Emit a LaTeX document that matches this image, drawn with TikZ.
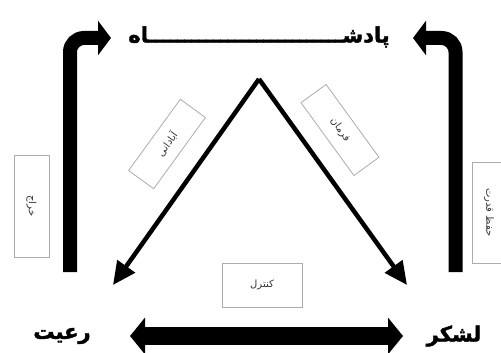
\documentclass[tikz,border=0pt]{standalone}
\usepackage{fontspec}
\usetikzlibrary{arrows.meta}
\newfontfamily\fa[Script=Arabic]{DejaVu Sans}
\newfontfamily\fab[Script=Arabic,FakeBold=2]{DejaVu Sans Bold}
\TeXXeTstate=1
\begin{document}
\begin{tikzpicture}[x=1pt,y=-1pt,
  lbl/.style={font=\fab\fontsize{21}{25}\selectfont, inner sep=0pt},
  tag/.style={draw=gray!65, line width=0.8pt, fill=white, inner sep=0pt,
    font=\fa\fontsize{10}{12}\selectfont, text=black!80},
  bent/.style={line width=14pt, -{Triangle[width=34pt,length=13pt]}, rounded corners=14pt},
  diag/.style={line width=4.5pt, -{Triangle[width=21pt,length=23pt]}},
  dbl/.style={line width=18pt, {Triangle[width=36pt,length=15pt]}-{Triangle[width=36pt,length=15pt]}},
]
\useasboundingbox (0,0) rectangle (501,353);
\clip (0,0) rectangle (501,353);

% labels
\node[lbl] (king) at (259,37) {\beginR پادشـــــــــــــــــــــــــــاه\endR};
\node[lbl] (raiyat) at (62,336) {\beginR رعیت\endR};
\node[lbl] (lashkar) at (454,336) {\beginR لشکر\endR};

% coordinates
\coordinate (apex) at (259,79);
\coordinate (ltip) at (113,285);
\coordinate (rtip) at (407,285);
\coordinate (lb) at (70,272);
\coordinate (lc) at (70,38);
\coordinate (le) at (111,38);
\coordinate (rb) at (455.5,272);
\coordinate (rc) at (455.5,38);
\coordinate (re) at (413,38);
\coordinate (dl) at (130,336);
\coordinate (dr) at (403,336);

% arrows
\draw[bent] (lb) -- (lc) -- (le);
\draw[bent] (rb) -- (rc) -- (re);
\draw[diag] (apex) -- (ltip);
\draw[diag] (apex) -- (rtip);
\draw[dbl] (dl) -- (dr);

% tags
\node[tag, minimum width=102pt, minimum height=35pt, rotate=-90] (kharaj) at (31.5,206) {\beginR خراج\endR};
\node[tag, minimum width=101pt, minimum height=34pt, rotate=-90] (hefz) at (489,212.5) {\beginR حفظ قدرت\endR};
\node[tag, minimum width=88pt, minimum height=31pt, rotate=54] (abadani) at (167,144) {\beginR آبادانی\endR};
\node[tag, minimum width=90pt, minimum height=31pt, rotate=-54] (farman) at (340,130) {\beginR فرمان\endR};
\node[tag, minimum width=80pt, minimum height=44pt] (control) at (262,285) {\beginR کنترل\endR};
\end{tikzpicture}
\end{document}
